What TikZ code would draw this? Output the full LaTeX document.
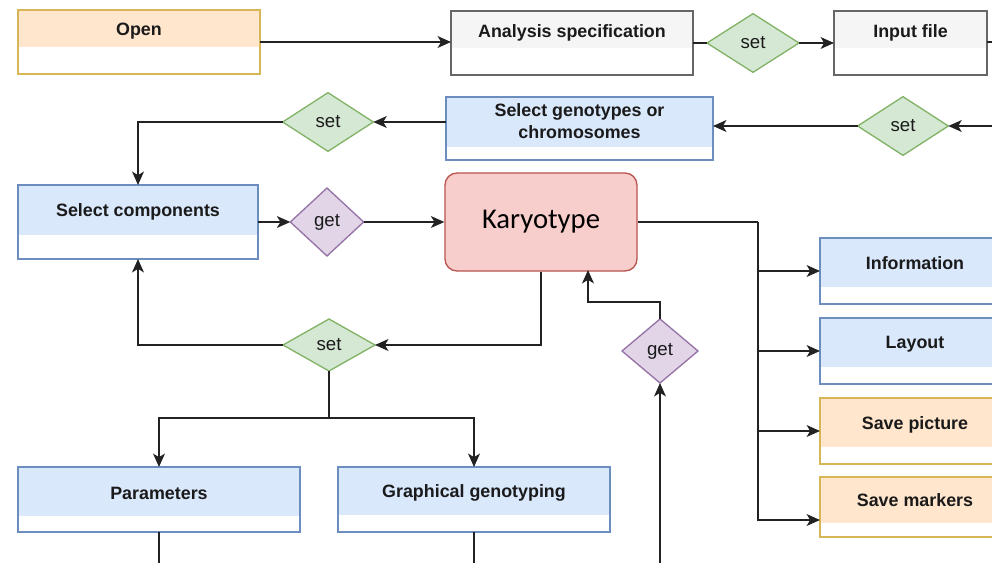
\documentclass[tikz,border=0pt]{standalone}
\usepackage{fontspec}
\setmainfont{Liberation Sans}
\newfontfamily\karyfont{Carlito}
\usetikzlibrary{shapes.geometric,arrows.meta}
\definecolor{hdorange}{HTML}{FFE6CC}
\definecolor{bdorange}{HTML}{D6B656}
\definecolor{hdgray}{HTML}{F5F5F5}
\definecolor{bdgray}{HTML}{666666}
\definecolor{hdblue}{HTML}{DAE8FC}
\definecolor{bdblue}{HTML}{6C8EBF}
\definecolor{gfill}{HTML}{D5E8D4}
\definecolor{gdraw}{HTML}{82B366}
\definecolor{pfill}{HTML}{E1D5E7}
\definecolor{pdraw}{HTML}{9673A6}
\definecolor{rfill}{HTML}{F8CECC}
\definecolor{rdraw}{HTML}{B85450}
\definecolor{txt}{HTML}{1A1A1A}
\definecolor{wirec}{HTML}{222222}
\tikzset{
  lane/.style={rectangle, draw, fill=white, inner sep=0pt, outer sep=0pt, line width=1pt},
  lanetext/.style={font=\bfseries\fontsize{13.4}{16.5}\selectfont, text=txt, align=center, inner sep=0pt},
  dia/.style={diamond, draw, line width=1pt, inner sep=0pt, outer sep=0pt, font=\fontsize{14}{16}\selectfont, text=txt},
  setd/.style={dia, fill=gfill, draw=gdraw},
  getd/.style={dia, fill=pfill, draw=pdraw},
  wire/.style={draw=wirec, line width=1.5pt},
  conn/.style={wire, -{Stealth[length=10pt,width=8.8pt,inset=2.6pt]}},
}
% name, colour, x1, y1, x2, y2, header bottom, text, text offset
\newcommand{\lanebox}[9]{%
  \node[lane, draw=bd#2, minimum width={(#5-#3)*0.75pt}, minimum height={(#6-#4)*0.75pt}] (#1) at ({(#3+#5)/2},{(#4+#6)/2}) {};
  \fill[hd#2] (#3,#4) rectangle (#5,#7);
  \draw[bd#2, line width=1pt] (#1.south west) rectangle (#1.north east);
  \node[lanetext] (#1t) at ({(#3+#5)/2},{(#4+#7)/2+#9}) {#8};
}
\begin{document}
\begin{tikzpicture}[x=0.75pt,y=-0.75pt]
\useasboundingbox (0,0) rectangle (992,563);
\fill[white] (0,0) rectangle (992,563);
\clip (0,0) rectangle (992,563);

% boxes
\lanebox{open}{orange}{18}{10}{260}{74}{47}{Open}{3}
\lanebox{ana}{gray}{451}{11}{693}{75}{48}{Analysis specification}{3}
\lanebox{inp}{gray}{834}{11}{987}{75}{48}{Input file}{3}
\lanebox{selg}{blue}{446}{97}{713}{160}{147}{Select genotypes or\\chromosomes}{-1}
\lanebox{selc}{blue}{18}{185}{258}{259}{235}{Select components}{2}
\lanebox{info}{blue}{820}{238}{1010}{304}{287}{Information}{1}
\lanebox{layout}{blue}{820}{318}{1010}{384}{367}{Layout}{2}
\lanebox{savep}{orange}{820}{398}{1010}{464}{447}{Save picture}{2}
\lanebox{savem}{orange}{820}{477}{1010}{537}{523}{Save markers}{0}
\lanebox{params}{blue}{18}{467}{300}{532}{516}{Parameters}{2}
\lanebox{graph}{blue}{338}{467}{610}{532}{515}{Graphical genotyping}{2}

% karyotype
\node[rectangle, rounded corners=9pt, draw=rdraw, fill=rfill, line width=1pt,
      minimum width=144pt, minimum height=73.5pt, inner sep=0pt,
      font=\karyfont\fontsize{21.5}{24}\selectfont, text=black] (kary) at (541,222) {\raisebox{-2pt}{Karyotype}};

% diamonds
\node[setd, minimum width=69pt, minimum height=44pt] (set1) at (753,43) {\raisebox{-1.5pt}{set}};
\node[setd, minimum width=68pt, minimum height=44pt] (set2) at (903,126) {set};
\node[setd, minimum width=68pt, minimum height=44pt] (set3) at (328,122) {set};
\node[setd, minimum width=69pt, minimum height=39pt] (set4) at (329,345) {set};
\node[getd, minimum width=55pt, minimum height=51pt] (get1) at (327,222) {get};
\node[getd, minimum width=57pt, minimum height=48pt] (get2) at (660,351) {get};

% free ends
\coordinate (eInp) at (1000,42);
\coordinate (eSet2) at (1000,126);
\coordinate (eGet2) at (660,580);
\coordinate (bj) at (329,418);
\coordinate (busT) at (758,222);
\coordinate (kin) at (588,270);

% connectors
\draw[conn] (open.east) -- (open.east -| ana.west);
\draw[wire] (ana.east |- set1.west) -- (set1.west);
\draw[conn] (set1.east) -- (set1.east -| inp.west);
\draw[wire] (inp.east |- eInp) -- (eInp);
\draw[conn] (eSet2) -- (set2.east);
\draw[conn] (set2.west) -- (set2.west -| selg.east);
\draw[conn] (selg.west |- set3.east) -- (set3.east);
\draw[conn] (set3.west) -| (selc.north);
\draw[conn] (selc.east |- get1.west) -- (get1.west);
\draw[conn] (get1.east) -- (get1.east -| kary.west);
\draw[conn] (kary.south) |- (set4.east);
\draw[conn] (set4.west) -| (selc.south);
\draw[wire] (set4.south) -- (bj);
\draw[conn] (bj) -| (params.north);
\draw[conn] (bj) -| (graph.north);
\draw[wire] (params.south) -- ++(0,40);
\draw[wire] (graph.south) -- ++(0,40);
\draw[conn] (eGet2) -- (get2.south);
\draw[conn] (get2.north) -- ++(0,-17) -| (kin);
\draw[wire] (kary.east) -- (busT);
\draw[conn] (busT) |- (info.west);
\draw[conn] (busT) |- (layout.west);
\draw[conn] (busT) |- (savep.west);
\draw[conn] (busT) |- ([yshift=-9.75pt]savem.west);
\end{tikzpicture}
\end{document}
